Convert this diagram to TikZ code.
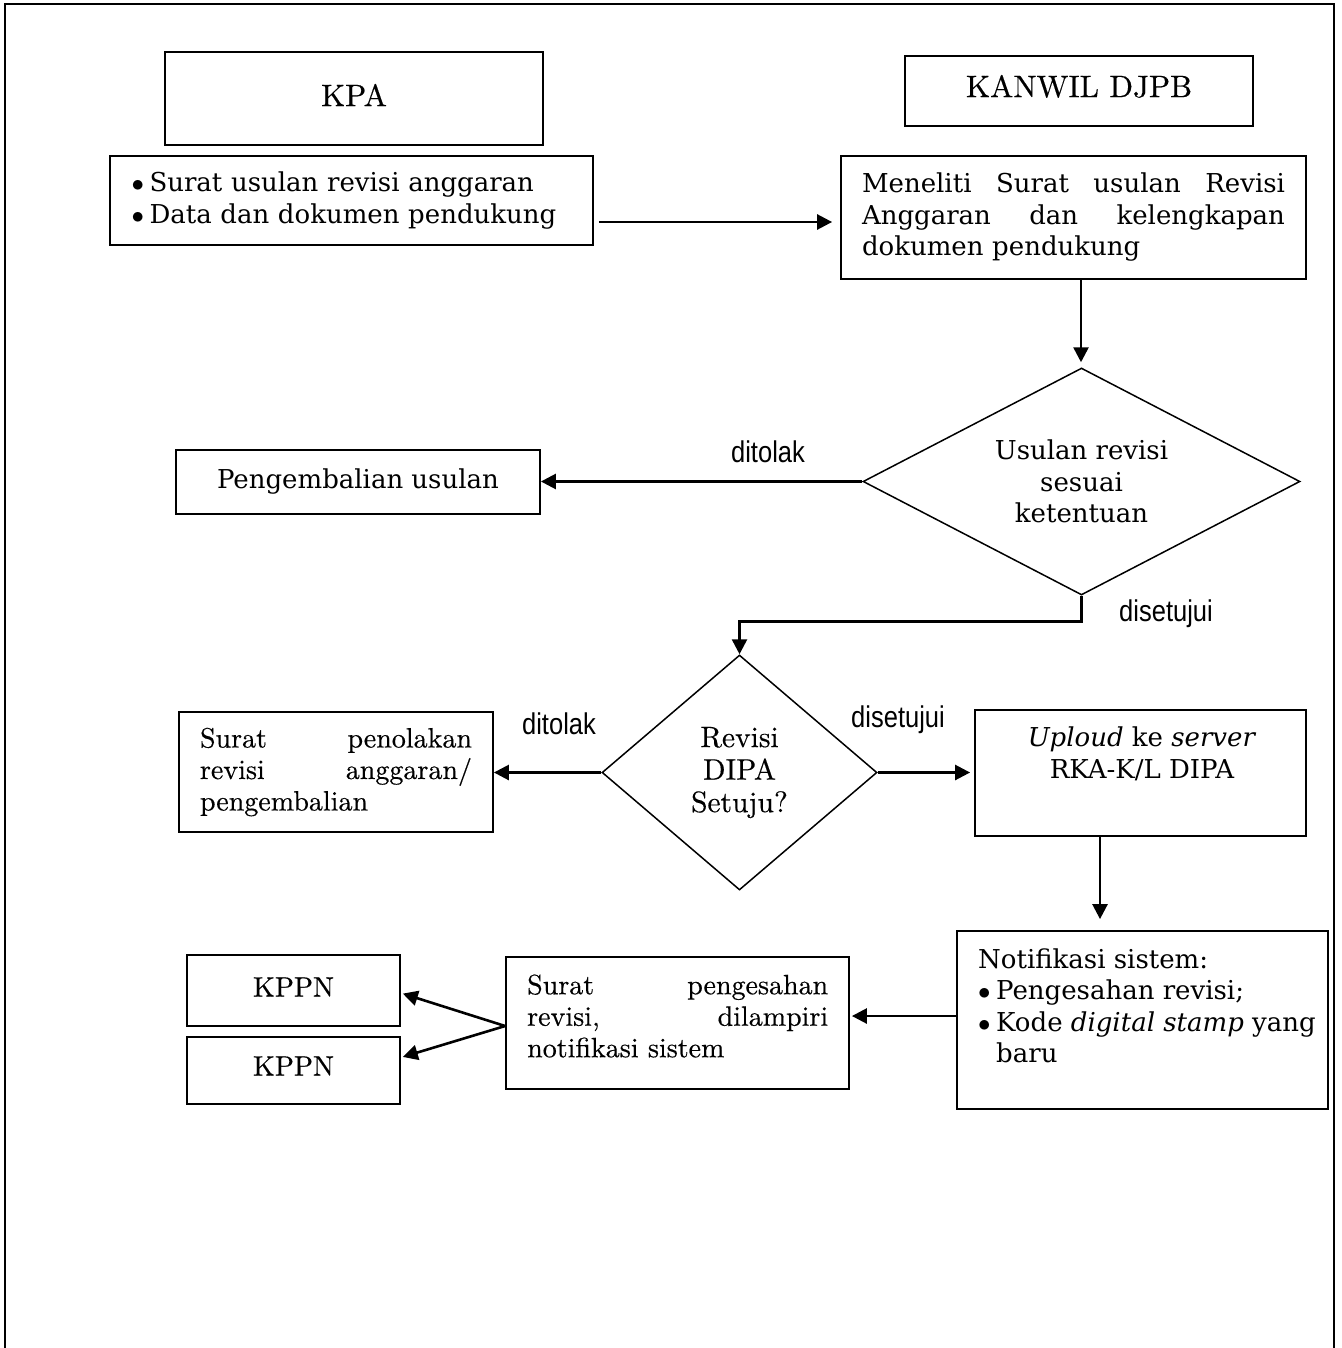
\documentclass[tikz,border=0pt]{standalone}
\usepackage{fontspec}
\newfontfamily\bk{DejaVu Serif}
\newfontfamily\cent[FakeBold=0.4]{lmroman10-regular.otf}
\newfontfamily\lbl[FakeStretch=0.85]{Liberation Sans}
\usetikzlibrary{shapes.geometric,arrows.meta,calc}
\newcommand{\bkf}{\bk\fontsize{26}{31.5}\selectfont}
\newcommand{\lmf}{\cent\fontsize{28}{31.5}\selectfont}
\newcommand{\lblf}{\lbl\fontsize{30}{32}\selectfont}
\newcommand{\bul}{\makebox[18pt][l]{$\bullet$}}
\newcommand{\jline}[2]{\leavevmode\hbox to #1{#2}}
\begin{document}
\begin{tikzpicture}[x=1pt,y=-1pt,
  box/.style={draw,line width=1.8pt,inner sep=0pt},
  dia/.style={draw,diamond,line width=1.5pt,inner sep=0pt},
  arr/.style={line width=2.6pt,-{Triangle[length=15pt,width=15pt]}},
  lab/.style={font=\lblf,inner sep=0pt},
  frame/.style={line width=2pt}]
\useasboundingbox (0,0) rectangle (1341,1348);
% outer frame (open at bottom)
\draw[frame] (5,1348) -- (5,4) -- (1334,4) -- (1334,1348);

% boxes
\node[box,minimum width=378pt,minimum height=93pt,font=\cent\fontsize{31}{32}\selectfont,text depth=7pt] (kpa) at (354,98.5) {KPA};
\node[box,minimum width=348pt,minimum height=70pt,font=\cent\fontsize{31}{32}\selectfont,text depth=10pt] (kanwil) at (1079,91) {KANWIL DJPB};
\node[box,minimum width=483pt,minimum height=89pt,font=\bkf,align=left,text width=440pt] (kpadoc) at (351.5,200.5)
  {\bul Surat usulan revisi anggaran\\\bul Data dan dokumen pendukung};
\node[box,minimum width=465pt,minimum height=123pt,font=\bkf,align=left,text width=423pt] (teliti) at (1073.5,217.5)
  {\jline{423pt}{Meneliti\hfill Surat\hfill usulan\hfill Revisi}\\\jline{423pt}{Anggaran\hfill dan\hfill kelengkapan}\\dokumen pendukung};
\node[dia,minimum width=437pt,minimum height=227pt,shape aspect=1.93,font=\bkf,align=center] (d1) at (1081.5,481.5)
  {Usulan revisi\\sesuai\\ketentuan};
\node[box,minimum width=364pt,minimum height=64pt,font=\bkf] (kembali) at (358,482) {Pengembalian usulan};
\node[dia,minimum width=275pt,minimum height=235pt,shape aspect=1.17,font=\cent\fontsize{29.5}{32.5}\selectfont,align=center] (d2) at (739.5,772.5)
  {Revisi\\DIPA\\Setuju?};
\node[box,minimum width=314pt,minimum height=120pt,font=\lmf,align=left,text width=272pt] (tolak) at (336,772)
  {\jline{272pt}{Surat\hfill penolakan}\\\jline{272pt}{revisi\hfill anggaran/}\\pengembalian};
\node[box,minimum width=331pt,minimum height=126pt] (upload) at (1140.5,773) {};
\node[font=\bkf,align=center,inner sep=0pt] (uploadt) at (1142,754)
  {\textit{Uploud} ke \textit{server}\\RKA-K/L DIPA};
\node[box,minimum width=371pt,minimum height=178pt] (notif) at (1142.5,1020) {};
\node[font=\bkf,align=left,anchor=west,inner sep=0pt] (notift) at (978,1006)
  {Notifikasi sistem:\\\bul Pengesahan revisi;\\\bul Kode \textit{digital stamp} yang\\\hspace*{18pt}baru};
\node[box,minimum width=343pt,minimum height=132pt] (sah) at (677.5,1023) {};
\node[font=\lmf,align=left,anchor=west,inner sep=0pt,text width=301pt] (saht) at (527,1016)
  {\jline{301pt}{Surat\hfill pengesahan}\\\jline{301pt}{revisi,\hfill dilampiri}\\notifikasi sistem};
\node[box,minimum width=213pt,minimum height=71pt,font=\lmf,text depth=7pt] (kppn1) at (293.5,990.5) {KPPN};
\node[box,minimum width=213pt,minimum height=67pt,font=\lmf,text depth=9pt] (kppn2) at (293.5,1070.5) {KPPN};

% labels
\node[lab] (l1) at (768,452) {ditolak};
\node[lab] (l2) at (1166,614) {disetujui};
\node[lab] (l3) at (559,724) {ditolak};
\node[lab] (l4) at (898,720) {disetujui};

% connectors
\coordinate (a1s) at ($(kpadoc.east)+(5,21.5)$);
\draw[arr,shorten >=8pt] (a1s) -- (a1s -| teliti.west);
\coordinate (a2s) at ($(teliti.south)+(7.5,0)$);
\draw[arr,shorten >=5pt] (a2s) -- (a2s |- d1.north);
\draw[arr] (d1.west) -- (d1.west -| kembali.east);
\draw[arr] (d1.south) -- ++(0,26) -| (d2.north);
\draw[arr] (d2.west) -- (d2.west -| tolak.east);
\draw[arr,shorten >=4pt] (d2.east) -- (d2.east -| upload.west);
\coordinate (a7s) at ($(upload.south)+(-40.5,0)$);
\draw[arr,shorten >=11pt] (a7s) -- (a7s |- notif.north);
\coordinate (a8s) at ($(notif.west)+(0,-4)$);
\draw[arr,shorten >=2pt] (a8s) -- (a8s -| sah.east);
\coordinate (k1in) at ($(kppn1.east)+(0,2.5)$);
\coordinate (k2in) at ($(kppn2.east)+(0,-13)$);
\coordinate (sahw) at ($(sah.west)+(0,3)$);
\draw[arr,shorten >=2pt] (sahw) -- (k1in);
\draw[arr,shorten >=2pt] (sahw) -- (k2in);
\end{tikzpicture}
\end{document}
